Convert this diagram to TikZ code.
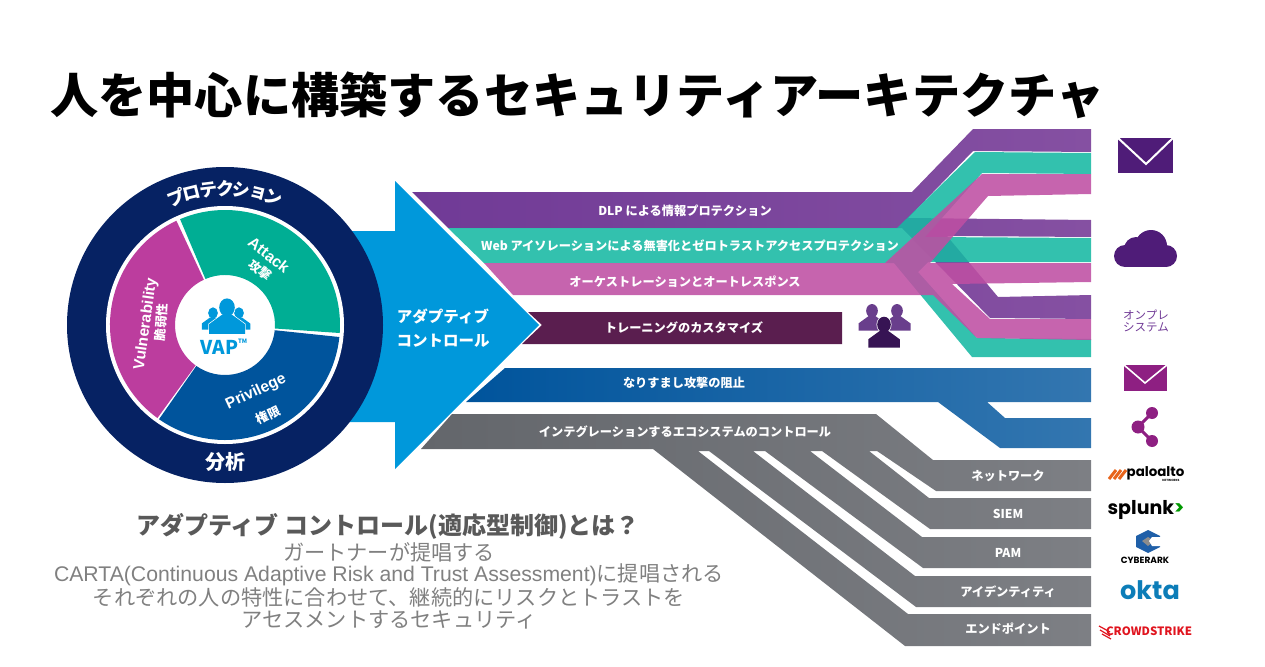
\documentclass[tikz,border=0pt]{standalone}
\usepackage{fontspec}
\setmainfont{Noto Sans CJK JP}
\newfontfamily\latinfont{Liberation Sans}
\newfontfamily\logofont{Poppins}
\usetikzlibrary{positioning,calc}
\definecolor{navy}{HTML}{062263}
\definecolor{arrowblue}{HTML}{0098DB}
\definecolor{segteal}{HTML}{00AE94}
\definecolor{segpink}{HTML}{BC3D9E}
\definecolor{segblue}{HTML}{00549C}
\definecolor{bandpurple}{HTML}{703A96}
\definecolor{bandpurplelt}{HTML}{8550A2}
\definecolor{bandteal}{HTML}{17B8A3}
\definecolor{bandpink}{HTML}{BE4FA3}
\definecolor{darkplum}{HTML}{5A1E4F}
\definecolor{iconplum}{HTML}{4F1C78}
\definecolor{iconpink}{HTML}{8E1F82}
\definecolor{graytext}{HTML}{808080}
\definecolor{banddark}{HTML}{63666B}
\definecolor{bandlight}{HTML}{7D7F84}
\definecolor{oktablue}{HTML}{0C7DB8}
\definecolor{paloorange}{HTML}{E8641B}
\definecolor{arkblue}{HTML}{1F5FA8}
\definecolor{crowdred}{HTML}{E0141E}
\tikzset{
  band/.style     ={font=\bfseries\fontsize{12.2}{14}\selectfont,text=white,inner sep=0pt,yshift=-0.8pt},
  seglabel/.style ={font=\latinfont\bfseries\fontsize{15.5}{18}\selectfont,text=white,inner sep=0pt},
  segjp/.style    ={font=\bfseries\fontsize{12.5}{14}\selectfont,text=white,inner sep=0pt},
  ringlabel/.style={font=\bfseries\fontsize{18}{20}\selectfont,text=white,inner sep=0pt},
  bodytext/.style ={font=\fontsize{21.2}{23}\selectfont,text=graytext,inner sep=0pt},
  branch/.style   ={fill opacity=0.88},
  person/.pic     ={\path[draw=white,line width=1.4pt] (0,-8) circle (6.5 and 7.5)
                      (-4,-2) -- (4,-2) -- (15,6) -- (15,14) -- (-15,14) -- (-15,6) -- cycle;
                    \fill (0,-8) circle (6.5 and 7.5);
                    \fill (-4,-2) -- (4,-2) -- (15,6) -- (15,14) -- (-15,14) -- (-15,6) -- cycle;}
}
\begin{document}
\begin{tikzpicture}[x=1pt,y=-1pt]
  \useasboundingbox (0,0) rectangle (1265,666);
  \node[font=\bfseries\fontsize{48.2}{50}\selectfont,inner sep=0pt,anchor=west] (title) at (50,95)
    {人を中心に構築するセキュリティアーキテクチャ};
  % big arrow
  \fill[arrowblue] (345,231) -- (395,231) -- (395,181) -- (539,325) -- (395,469) -- (395,422) -- (345,422) -- cycle;
  \node[font=\bfseries\fontsize{15.5}{24}\selectfont,text=white,align=center,inner sep=0pt] (adapt) at (443,328)
    {アダプティブ\\コントロール};
  % ring
  \begin{scope}[shift={(225,325)},y=1pt]
    \fill[navy] (0,0) circle (158);
    \fill[white] (0,0) circle (119);
    \fill[segteal] (-4:115) arc (-4:113:115) -- (113:50) arc (113:-4:50) -- cycle;
    \fill[segblue] (-6:115) arc (-6:-125:115) -- (-125:50) arc (-125:-6:50) -- cycle;
    \fill[segpink] (115:115) arc (115:234:115) -- (234:50) arc (234:115:50) -- cycle;
    \foreach \ch [count=\i from 0] in {プ,ロ,テ,ク,シ,ョ,ン}
      \node[ringlabel,rotate=21-7*\i] (ring\i) at (111-7*\i:136) {\ch};
  \end{scope}
  \node[ringlabel,font=\bfseries\fontsize{20}{22}\selectfont] (analysis) at (225,462) {分析};
  \node[seglabel,rotate=-38] (attack) at (269,255) {Attack};
  \node[segjp,rotate=-38] (attackjp) at (260,270) {攻撃};
  \node[seglabel,rotate=82] (vuln) at (146,324) {Vulnerability};
  \node[segjp,rotate=86] (vulnjp) at (161,322) {脆弱性};
  \node[seglabel,rotate=25] (priv) at (256,392) {Privilege};
  \node[segjp,rotate=25] (privjp) at (268,415) {権限};
  \node[font=\bfseries\fontsize{19}{21}\selectfont,text=arrowblue,inner sep=0pt] (vap) at (224,347) {VAP\raisebox{1.1ex}{\fontsize{6}{7}\selectfont TM}};
  \begin{scope}[arrowblue]
    \pic at (213,319) [scale=0.75] {person};
    \pic at (239,319) [scale=0.75] {person};
    \pic at (227,317) [scale=1.2] {person};
  \end{scope}
  % crossing bands
  \shade[left color=bandpurple,right color=bandpurplelt] (412,192) -- (912,192) -- (973,129) -- (1091,129) -- (1091,152) -- (973,151) -- (908,218)
    -- (1091,220) -- (1091,237) -- (947,236) -- (998,297) -- (1091,295) -- (1091,319) -- (990,318) -- (902,228) -- (448,228) -- cycle;
  \fill[bandteal,branch] (448,228) -- (897,228) -- (975,152) -- (1091,153) -- (1091,174) -- (982,173) -- (925,237)
    -- (1091,238) -- (1091,262) -- (928,262) -- (918,272) -- (977,338) -- (1091,339) -- (1091,357) -- (972,357) -- (894,263) -- (484,263) -- cycle;
  \fill[bandpink,branch] (484,263) -- (885,263) -- (982,174) -- (1091,174) -- (1091,194) -- (988,196) -- (930,263)
    -- (1091,263) -- (1091,282) -- (952,284) -- (990,319) -- (1091,319) -- (1091,340) -- (977,338) -- (933,295) -- (513,295) -- cycle;
  \node[band] (dlp) at (685,210) {DLP による情報プロテクション};
  \node[band] (web) at (690,245) {Web アイソレーションによる無害化とゼロトラストアクセスプロテクション};
  \node[band] (orch) at (685,281) {オーケストレーションとオートレスポンス};
  % training
  \fill[darkplum] (528,312) -- (842,312) -- (842,344) -- (522,344) -- (542,325) -- cycle;
  \node[band] (train) at (684,327) {トレーニングのカスタマイズ};
  \begin{scope}[iconplum!85!white]
    \pic at (872,318) [scale=0.9] {person};
    \pic at (897,318) [scale=0.9] {person};
  \end{scope}
  \begin{scope}[iconplum!70!black]
    \pic at (884,333) [scale=1.05] {person};
  \end{scope}
  % blue band
  \shade[left color=segblue,right color=segblue!80!white] (505,368) -- (1091,368) -- (1091,402) -- (987,402) -- (1005,418)
    -- (1091,418) -- (1091,448) -- (1000,448) -- (938,402) -- (466,402) -- cycle;
  \node[band] (spoof) at (684,382) {なりすまし攻撃の阻止};
  % gray band
  \shade[left color=banddark,right color=bandlight] (452,414) -- (876,414) -- (933,460) -- (1091,460) -- (1091,491) -- (936,491)
    -- (877,451) -- (869,451) -- (929,498) -- (1091,498) -- (1091,529) -- (930,529)
    -- (822,451) -- (810,451) -- (922,537) -- (1091,537) -- (1091,568) -- (923,568)
    -- (765,451) -- (753,451) -- (915,576) -- (1091,576) -- (1091,607) -- (916,607)
    -- (709,451) -- (698,451) -- (908,614) -- (1091,614) -- (1091,646) -- (905,646) -- (653,449) -- (421,449) -- cycle;
  \node[band] (eco) at (685,431) {インテグレーションするエコシステムのコントロール};
  \node[band] (net) at (1008,475) {ネットワーク};
  \node[band] (siem) at (1008,513) {SIEM};
  \node[band] (pam) at (1008,552) {PAM};
  \node[band] (idn) at (1008,591) {アイデンティティ};
  \node[band] (end) at (1008,628) {エンドポイント};
  % icons
  \fill[iconplum] (1118,138) rectangle (1173,173);
  \draw[white,line width=2pt] (1118,138) -- (1146,164) -- (1173,138);
  \fill[iconplum] (1125,256) circle (11);
  \fill[iconplum] (1136,249) circle (12);
  \fill[iconplum] (1151,246) circle (16);
  \fill[iconplum] (1166,256) circle (11);
  \fill[iconplum] (1125,250) rectangle (1166,267);
  \node[font=\fontsize{11.5}{12.5}\selectfont,text=bandpurple,align=center,inner sep=0pt] (onprem) at (1146,321) {オンプレ\\システム};
  \fill[iconpink] (1124,365) rectangle (1167,391);
  \draw[white,line width=1.6pt] (1124,365) -- (1145,383) -- (1167,365);
  \coordinate (sa) at (1152,413); \coordinate (sb) at (1138,427); \coordinate (sc) at (1152,441);
  \draw[iconpink,line width=3pt] (sa) -- (sb) -- (sc);
  \fill[iconpink] (sa) circle (6) (sb) circle (6.5) (sc) circle (6);
  % logos
  \foreach \i in {0,1,2}
    \draw[paloorange,line width=3pt] (1109+5*\i,479) -- (1116+5*\i,470);
  \node[font=\logofont\bfseries\fontsize{13.4}{15}\selectfont,inner sep=0pt] (palo) at (1155.5,473) {paloalto};
  \node[font=\logofont\bfseries\fontsize{3}{3}\selectfont,inner sep=0pt] (palonet) at (1171,480) {NETWORKS};
  \node[font=\logofont\bfseries\fontsize{19}{21}\selectfont,inner sep=0pt] (splunk) at (1146,510) {splunk\textcolor{green!60!black}{>}};
  \fill[arkblue] (1148,530) -- (1160,536) -- (1160,547) -- (1148,553) -- (1136,547) -- (1136,536) -- cycle;
  \fill[black!45] (1148,537) -- (1154,541) -- (1148,546) -- (1142,541) -- cycle;
  \fill[white] (1152,537) -- (1161,537) -- (1161,546) -- (1152,546) -- (1149,541) -- cycle;
  \node[font=\logofont\bfseries\fontsize{9}{10}\selectfont,inner sep=0pt] (cyber) at (1145,560) {CYBERARK};
  \node[font=\logofont\bfseries\fontsize{25.5}{28}\selectfont,text=oktablue,inner sep=0pt] (okta) at (1150,590) {okta};
  \node[font=\bfseries\fontsize{11.5}{13}\selectfont,text=crowdred,inner sep=0pt] (crowd) at (1149,631) {CROWDSTRIKE};
  \draw[crowdred,line width=1.2pt] (1099,626) -- (1110,632) (1100,630) -- (1110,636) (1102,634) -- (1111,639);
  % explanation
  \node[font=\bfseries\fontsize{24}{26}\selectfont,text=black!65,inner sep=0pt] (head) at (388,526)
    {アダプティブ コントロール(適応型制御)とは？};
  \node[bodytext] (l1) at (389,552) {ガートナーが提唱する};
  \node[bodytext] (l2) at (389,575) {{\latinfont CARTA(Continuous Adaptive Risk and Trust Assessment)}に提唱される};
  \node[bodytext] (l3) at (389,597) {それぞれの人の特性に合わせて、継続的にリスクとトラストを};
  \node[bodytext] (l4) at (389,620) {アセスメントするセキュリティ};
\end{tikzpicture}
\end{document}
